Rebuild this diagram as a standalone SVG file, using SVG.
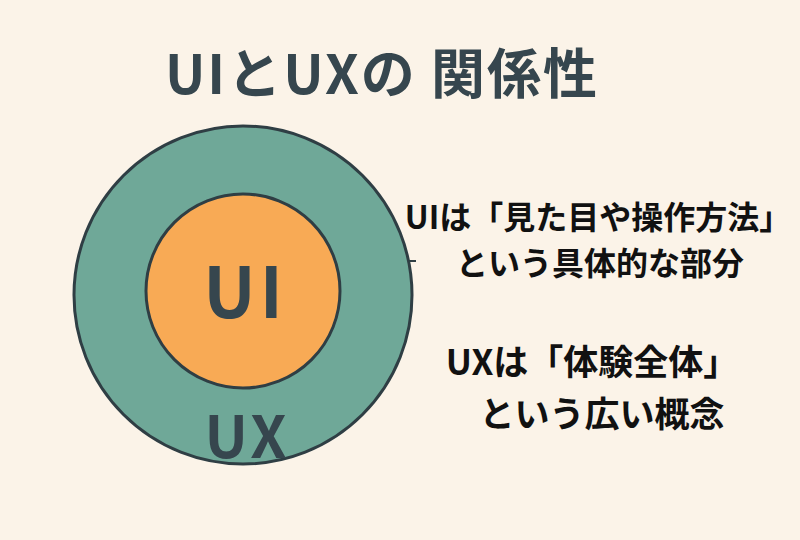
<svg xmlns="http://www.w3.org/2000/svg" width="800" height="540" viewBox="0 0 800 540">
<style>
.t{font-family:"Noto Sans CJK JP","Noto Sans",sans-serif;font-weight:bold}
.d{fill:#36464e}
.k{fill:#111}
</style>
<rect width="800" height="540" fill="#fbf3e8"/>
<text class="t d" x="382" y="94" font-size="54" text-anchor="middle" letter-spacing="2">UIとUXの 関係性</text>
<g id="ux"><circle cx="243" cy="295" r="169" fill="#6fa898" stroke="#2f3e44" stroke-width="3"/>
<text class="t d" x="247" y="458" font-size="58" text-anchor="middle" letter-spacing="3">UX</text></g>
<g id="ui"><circle cx="243" cy="291" r="97" fill="#f8aa55" stroke="#2f3e44" stroke-width="3"/>
<text class="t d" x="245" y="318" font-size="70" text-anchor="middle" letter-spacing="4">UI</text></g>
<g id="connectors"><line x1="408" y1="261" x2="416" y2="261" stroke="#2f3e44" stroke-width="2"/></g>
<g id="labels">
<text class="t k" x="598" y="229" font-size="32" text-anchor="middle">UIは「見た目や操作方法」</text>
<text class="t k" x="600" y="275" font-size="32" text-anchor="middle">という具体的な部分</text>
<text class="t k" x="592" y="375" font-size="35" text-anchor="middle">UXは「体験全体」</text>
<text class="t k" x="602" y="427" font-size="35" text-anchor="middle">という広い概念</text>
</g>
</svg>
